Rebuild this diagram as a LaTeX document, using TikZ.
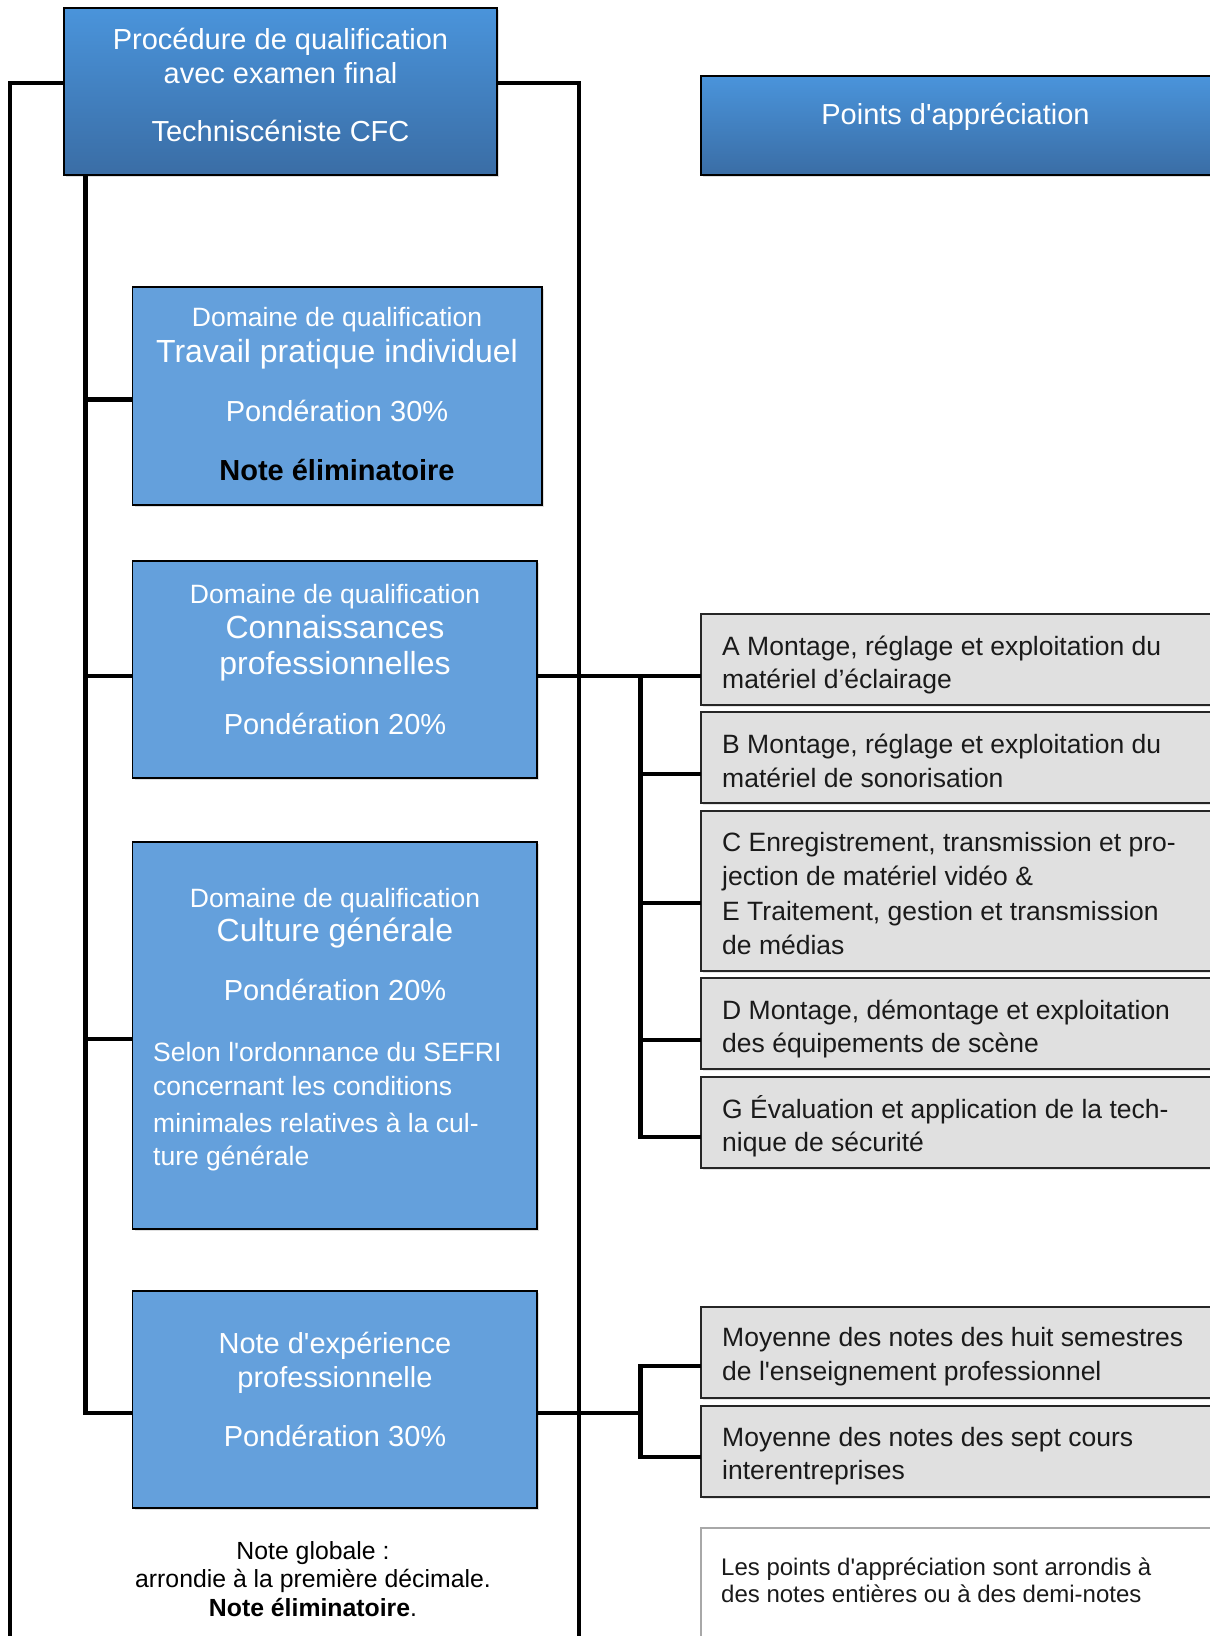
\documentclass[tikz,border=0pt]{standalone}
\usepackage{fontspec}
\setmainfont{Liberation Sans}[Ligatures=TeXOff]
\usetikzlibrary{shadows,calc}
\definecolor{gradtop}{HTML}{4A94DB}
\definecolor{gradbot}{HTML}{3A6DA5}
\definecolor{domblue}{HTML}{64A0DC}
\definecolor{critgray}{HTML}{E0E0E0}
\definecolor{notegray}{HTML}{A8A8A8}
\definecolor{txtdark}{HTML}{1A1A1A}
\newcommand{\fsA}{\fontsize{29}{34}\selectfont}
\newcommand{\fsB}{\fontsize{26.5}{32}\selectfont}
\newcommand{\fsC}{\fontsize{32}{36}\selectfont}
\newcommand{\fsD}{\fontsize{24}{28}\selectfont}
\newcommand{\fsE}{\fontsize{24.8}{28}\selectfont}
\begin{document}
\begin{tikzpicture}[x=1pt,y=-1pt,
  boxbase/.style={anchor=north west, inner sep=0pt, outer sep=0pt},
  gradbox/.style={boxbase, draw=black, line width=1.6pt, top color=gradtop, bottom color=gradbot,
    drop shadow={opacity=0.25, shadow xshift=2pt, shadow yshift=-2pt}},
  dombox/.style={boxbase, draw=black, line width=1.6pt, fill=domblue,
    drop shadow={opacity=0.25, shadow xshift=2pt, shadow yshift=-2pt}},
  critbox/.style={boxbase, draw=black!85, line width=1.8pt, fill=critgray,
    drop shadow={opacity=0.2, shadow xshift=2pt, shadow yshift=-2pt}},
  notebox/.style={boxbase, draw=notegray, line width=1.5pt, fill=white},
  wt/.style={anchor=base, inner sep=0pt, text=white},
  bt/.style={anchor=base, inner sep=0pt, text=black},
  lt/.style={anchor=base west, inner sep=0pt, text=white},
  gt/.style={anchor=base west, inner sep=0pt, text=txtdark, font=\fsB},
  outerline/.style={line width=3.2pt, line join=miter},
  mainline/.style={line width=4.6pt, line join=miter},
]
\useasboundingbox (0,0) rectangle (1210,1636);
\clip (0,0) rectangle (1210,1636);
\fill[white] (0,0) rectangle (1210,1636);

% ---------- boxes ----------
\node[gradbox, minimum width=433pt, minimum height=167pt] (top) at (64,8) {};
\node[gradbox, minimum width=530pt, minimum height=99pt] (pts) at (701,76) {};

\node[dombox, minimum width=409.5pt, minimum height=218pt] (b1) at (132.5,287) {};
\node[dombox, minimum width=404.5pt, minimum height=217pt] (b2) at (132.5,561) {};
\node[dombox, minimum width=404.5pt, minimum height=387pt] (b3) at (132.5,842) {};
\node[dombox, minimum width=404.5pt, minimum height=217pt] (b4) at (132.5,1291) {};

\node[critbox, minimum width=530pt, minimum height=91pt] (cA) at (701,614) {};
\node[critbox, minimum width=530pt, minimum height=91pt] (cB) at (701,712) {};
\node[critbox, minimum width=530pt, minimum height=160pt] (cC) at (701,811) {};
\node[critbox, minimum width=530pt, minimum height=91pt] (cD) at (701,978) {};
\node[critbox, minimum width=530pt, minimum height=91pt] (cG) at (701,1077) {};
\node[critbox, minimum width=530pt, minimum height=91pt] (cM1) at (701,1307) {};
\node[critbox, minimum width=530pt, minimum height=91pt] (cM2) at (701,1406) {};
\node[notebox, minimum width=530pt, minimum height=120pt] (cN) at (701,1528) {};

% ---------- connectors ----------
\coordinate (jl) at (10,83);
\coordinate (jlb) at (10,1645);
\coordinate (jr) at (579,83);
\coordinate (jrb) at (579,1645);
\draw[outerline] (top.west |- jl) -- (jl) -- (jlb);
\draw[outerline] (top.east |- jr) -- (jr) -- (jrb);

\coordinate (s1) at (85.5,399.5);
\coordinate (s2) at (85.5,676);
\coordinate (s3) at (85.5,1039);
\coordinate (s4) at (85.5,1413);
\draw[mainline] (top.south -| s4) -- (s4) -- (s4 -| b4.west);
\draw[mainline] (s1) -- (s1 -| b1.west);
\draw[mainline] (s2) -- (s2 -| b2.west);
\draw[mainline] (s3) -- (s3 -| b3.west);

\coordinate (kA) at (640.5,676);
\coordinate (kB) at (640.5,774);
\coordinate (kC) at (640.5,903);
\coordinate (kD) at (640.5,1040);
\coordinate (kG) at (640.5,1137);
\draw[mainline] (kA -| b2.east) -- (kA -| cA.west);
\draw[mainline] (kA) -- (kG) -- (kG -| cG.west);
\draw[mainline] (kB) -- (kB -| cB.west);
\draw[mainline] (kC) -- (kC -| cC.west);
\draw[mainline] (kD) -- (kD -| cD.west);

\coordinate (m0) at (640.5,1413);
\coordinate (m1) at (640.5,1366);
\coordinate (m2) at (640.5,1457);
\draw[line width=4pt] (m0 -| b4.east) -- (m0);
\draw[mainline] (m1 -| cM1.west) -- (m1) -- (m2) -- (m2 -| cM2.west);

% ---------- texts ----------
\node[wt, font=\fsA] (t1) at (280.5,49) {Procédure de qualification};
\node[wt, font=\fsA] (t2) at (280.5,83.5) {avec examen final};
\node[wt, font=\fsA] (t3) at (280.5,141) {Techniscéniste CFC};
\node[wt, font=\fsA] (p1) at (955.5,124) {Points d'appréciation};

\node[wt, font=\fsB] (b1a) at (337,326.5) {Domaine de qualification};
\node[wt, font=\fsC] (b1b) at (337,362) {Travail pratique individuel};
\node[wt, font=\fsA] (b1c) at (337,421.5) {Pondération 30\%};
\node[bt, font=\fsA\bfseries] (b1d) at (337,480) {Note éliminatoire};

\node[wt, font=\fsB] (b2a) at (335,603) {Domaine de qualification};
\node[wt, font=\fsC] (b2b) at (335,638) {Connaissances};
\node[wt, font=\fsC] (b2c) at (335,674) {professionnelles};
\node[wt, font=\fsA] (b2d) at (335,734) {Pondération 20\%};

\node[wt, font=\fsB] (b3a) at (335,907.5) {Domaine de qualification};
\node[wt, font=\fsC] (b3b) at (335,941) {Culture générale};
\node[wt, font=\fsA] (b3c) at (335,1000) {Pondération 20\%};
\node[lt, font=\fsB] (b3d) at (153,1061) {Selon l'ordonnance du SEFRI};
\node[lt, font=\fsB] (b3e) at (153,1095) {concernant les conditions};
\node[lt, font=\fsB] (b3f) at (153,1132) {minimales relatives à la cul-};
\node[lt, font=\fsB] (b3g) at (153,1165) {ture générale};

\node[wt, font=\fsA] (b4a) at (335,1353) {Note d'expérience};
\node[wt, font=\fsA] (b4b) at (335,1387) {professionnelle};
\node[wt, font=\fsA] (b4c) at (335,1446) {Pondération 30\%};

\node[gt] (cA1) at (722,655) {A Montage, réglage et exploitation du};
\node[gt] (cA2) at (722,688.5) {matériel d’éclairage};
\node[gt] (cB1) at (722,753) {B Montage, réglage et exploitation du};
\node[gt] (cB2) at (722,787.5) {matériel de sonorisation};
\node[gt] (cC1) at (722,851) {C Enregistrement, transmission et pro-};
\node[gt] (cC2) at (722,885.5) {jection de matériel vidéo \&};
\node[gt] (cC3) at (722,920) {E Traitement, gestion et transmission};
\node[gt] (cC4) at (722,954.5) {de médias};
\node[gt] (cD1) at (722,1019) {D Montage, démontage et exploitation};
\node[gt] (cD2) at (722,1052.5) {des équipements de scène};
\node[gt] (cG1) at (722,1118) {G Évaluation et application de la tech-};
\node[gt] (cG2) at (722,1151.5) {nique de sécurité};
\node[gt] (cM1a) at (722,1346.5) {Moyenne des notes des huit semestres};
\node[gt] (cM1b) at (722,1380) {de l'enseignement professionnel};
\node[gt] (cM2a) at (722,1446) {Moyenne des notes des sept cours};
\node[gt] (cM2b) at (722,1479) {interentreprises};
\node[gt, font=\fsD] (cN1) at (721,1575) {Les points d'appréciation sont arrondis à};
\node[gt, font=\fsD] (cN2) at (721,1602) {des notes entières ou à des demi-notes};

\node[bt, font=\fsE] (g1) at (313,1559.5) {Note globale :};
\node[bt, font=\fsE] (g2) at (313,1587.5) {arrondie à la première décimale.};
\node[bt, font=\fsE] (g3) at (313,1616) {\textbf{Note éliminatoire}.};
\end{tikzpicture}
\end{document}
